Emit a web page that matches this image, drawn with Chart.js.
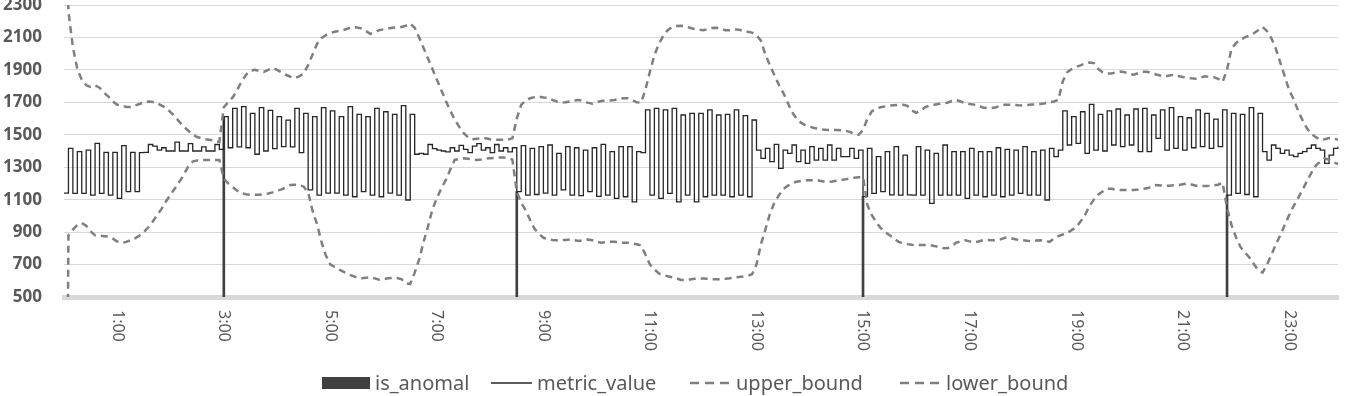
<!DOCTYPE html>
<html>
<head>
<meta charset="utf-8">
<script src="https://cdn.jsdelivr.net/npm/chart.js@4/dist/chart.umd.min.js"></script>
<style>
html,body{margin:0;padding:0;background:#fff;overflow:hidden;}
#wrap{position:relative;width:1357px;height:396px;overflow:hidden;background:#fff;}
#cv{position:absolute;left:0;top:-8px;}
#legend{position:absolute;top:371px;left:0;width:1357px;height:24px;font-family:'Noto Sans',sans-serif;font-size:20px;color:#595959;}
.item{position:absolute;top:0;height:24px;line-height:24px;white-space:nowrap;display:flex;align-items:center;}
.item span{margin-left:5px;}
</style>
</head>
<body>
<div id="wrap">
<canvas id="cv" width="1357" height="404" style="width:1357px;height:404px"></canvas>
<div id="legend"></div>
</div>
<script>
// ---- categories (5-minute steps over one day) ----
const timeLabels = [];
for (let h = 0; h < 24; h++) for (let m = 0; m < 60; m += 5) timeLabels.push(h + ':' + String(m).padStart(2, '0'));

// ---- tick labels shown on the x axis ----
const tickLabels = ['1:00','3:00','5:00','7:00','9:00','11:00','13:00','15:00','17:00','19:00','21:00','23:00'];

// ---- series ----
const metricValue = [
1140,1416,1139,1396,1139,1406,1128,1447,1139,1392,1128,1392,1108,1433,1149,1392,1149,
1390,1392,1440,1430,1405,1420,1400,1400,1455,1400,1400,1445,1400,1400,1425,1400,1400,1440,1410,
1612,1420,1663,1425,1673,1420,1632,1380,1667,1400,1650,1415,1612,1427,1590,1425,1663,1390,1632,
1160,1612,1128,1667,1140,1647,1140,1612,1128,1673,1118,1626,1150,1612,1128,1663,1118,1642,1140,1626,1128,1680,1098,1626,
1380,1385,1380,1440,1415,1405,1400,1395,1420,1400,1435,1410,1390,1430,1445,1405,1420,1390,1440,1400,1420,1395,1420,
1150,1433,1128,1416,1132,1427,1140,1437,1128,1385,1160,1427,1128,1420,1125,1406,1150,1420,1120,1441,1128,1396,1108,1427,1118,1427,1087,1396,1390,
1653,1128,1663,1108,1653,1139,1663,1087,1622,1128,1632,1087,1632,1118,1653,1128,1622,1128,1626,1118,1653,1128,1618,1118,1591,
1406,1355,1416,1334,1441,1293,1406,1385,1437,1334,1406,1324,1427,1344,1416,1344,1437,1344,1416,1365,1365,1416,1355,1406,
1120,
1416,1139,1365,1150,1396,1130,1427,1128,1375,1130,1128,1427,1128,1406,1077,1385,1128,1437,1128,1396,1128,1396,1108,1416,1128,1396,1118,1396,1128,1420,1118,1410,1128,1406,1139,1427,1128,1396,1128,1406,1098,
1416,1365,1406,
1647,1437,1612,1447,1642,1385,1688,1406,1626,1400,1647,1437,1659,1427,1622,1437,1659,1396,1663,1396,1622,1478,1653,1406,1667,1416,1612,1406,1605,1420,1653,1427,1632,1416,1597,1427,1653,
1128,1632,1139,1626,1132,1667,1118,1632,
1396,1344,1437,1416,1385,1406,1375,1365,1385,1396,1416,1437,1416,1406,1324,1375,1416,1427
];

const upperBound = [
3500,2260,2040,1905,1840,1805,1795,1805,1790,1760,
1735,1705,1685,1680,1672,1672,1680,1690,1700,1705,
1702,1695,1680,1665,1640,1612,1580,1550,1525,1500,
1486,1478,1472,1468,1462,1456,1670,1700,1730,1775,
1830,1870,1895,1900,1893,1888,1900,1912,1900,1885,
1870,1858,1850,1860,1878,1930,1995,2060,2095,2115,
2127,2135,2140,2146,2155,2165,2162,2155,2140,2122,
2130,2145,2150,2155,2160,2162,2165,2172,2185,2160,
2100,2035,1970,1905,1840,1775,1710,1650,1595,1550,
1512,1485,1472,1475,1480,1478,1472,1470,1470,1470,
1470,1478,1600,1685,1710,1725,1732,1735,1730,1728,
1715,1705,1698,1700,1705,1712,1715,1705,1698,1692,
1700,1708,1710,1712,1715,1720,1725,1725,1715,1700,
1698,1780,1890,1990,2060,2110,2145,2165,2170,2172,
2168,2160,2152,2148,2145,2150,2158,2160,2152,2145,
2145,2150,2148,2140,2135,2130,2115,2080,1995,1930,
1870,1810,1760,1700,1640,1600,1575,1560,1550,1542,
1538,1532,1530,1530,1530,1528,1525,1518,1505,1500,
1530,1600,1645,1660,1670,1675,1680,1682,1684,1685,
1678,1650,1635,1648,1670,1680,1685,1690,1694,1698,
1708,1714,1705,1695,1690,1686,1678,1668,1665,1665,
1670,1680,1685,1685,1684,1682,1681,1683,1686,1688,
1690,1694,1700,1705,1715,1830,1885,1905,1918,1928,
1940,1945,1942,1905,1885,1877,1878,1885,1890,1885,
1876,1870,1880,1888,1888,1880,1872,1865,1860,1865,
1870,1862,1856,1852,1848,1845,1852,1860,1858,1855,
1845,1825,1900,2030,2065,2085,2100,2112,2125,2145,
2165,2140,2095,2030,1945,1860,1775,1720,1650,1590,
1540,1505,1485,1470,1472,1480,1475,1470
];

const lowerBound = [
-3000,880,915,945,955,940,905,880,878,875,
872,860,842,833,840,850,862,878,900,930,
965,1005,1045,1090,1130,1170,1210,1255,1305,1335,
1342,1345,1345,1345,1345,1345,1230,1200,1178,1155,
1140,1133,1130,1130,1130,1134,1138,1145,1155,1163,
1175,1190,1192,1190,1180,1145,1030,950,840,755,
700,685,668,655,640,630,620,615,618,623,
615,607,610,616,618,617,610,585,580,650,
730,840,935,1040,1110,1170,1220,1285,1345,1350,
1355,1352,1347,1345,1348,1353,1355,1357,1360,1360,
1355,1348,1150,1080,1035,975,920,890,865,858,
852,850,850,852,855,850,845,850,855,850,
840,835,838,840,840,838,835,835,830,825,
818,760,700,670,645,635,628,622,615,605,
605,608,612,615,614,612,610,610,610,612,
615,620,623,626,630,640,700,825,915,1010,
1080,1125,1165,1185,1200,1210,1215,1220,1220,1220,
1218,1212,1210,1212,1216,1220,1225,1230,1235,1238,
1240,1065,1005,960,925,900,880,860,840,832,
826,822,820,820,820,820,815,808,802,800,
815,835,843,850,843,836,842,850,851,850,
850,855,865,865,858,852,850,847,845,848,
850,845,840,860,875,885,895,912,930,965,
1005,1060,1100,1132,1150,1168,1167,1160,1160,1160,
1160,1160,1162,1166,1170,1180,1190,1188,1185,1186,
1189,1190,1195,1200,1193,1186,1185,1185,1186,1188,
1192,1205,1050,945,870,810,775,745,705,665,
650,700,760,825,880,945,1005,1060,1110,1160,
1215,1265,1310,1335,1355,1345,1330,1320
];

const anomalyTimes = ['3:00','8:30','15:00','21:50'];
const anomalyValues = [1612,1150,1120,1128];

const seriesNames = ['is_anomal','metric_value','upper_bound','lower_bound'];

// ---- colours / styles ----
const BAR_COLOR = '#404040';
const LINE_COLOR = '#262626';
const BOUND_COLOR = '#7f7f7f';
const TEXT_COLOR = '#595959';
const GRID_COLOR = '#d9d9d9';

const xLabelPlugin = {
  id: 'rotatedXLabels',
  afterDraw(chart) {
    const xs = chart.scales.x, ctx = chart.ctx;
    const top = chart.chartArea.bottom + 13;
    ctx.save();
    ctx.font = '16px "Noto Sans"';
    ctx.fillStyle = TEXT_COLOR;
    ctx.textAlign = 'left';
    ctx.textBaseline = 'middle';
    tickLabels.forEach(t => {
      const x = xs.getPixelForValue(timeLabels.indexOf(t));
      ctx.save();
      ctx.translate(x, top);
      ctx.rotate(Math.PI / 2);
      ctx.fillText(t, 0, 0);
      ctx.restore();
    });
    ctx.restore();
  }
};

new Chart(document.getElementById('cv'), {
  type: 'line',
  data: {
    labels: timeLabels,
    datasets: [
      {
        type: 'bar', label: seriesNames[0],
        data: anomalyTimes.map((t, k) => ({x: t, y: anomalyValues[k]})),
        backgroundColor: BAR_COLOR, barThickness: 2, grouped: false, order: 5
      },
      {
        label: seriesNames[1], data: metricValue, borderColor: LINE_COLOR, borderWidth: 1.3,
        pointRadius: 0, stepped: true, tension: 0, fill: false, order: 3
      },
      {
        label: seriesNames[2], data: upperBound, borderColor: BOUND_COLOR, borderWidth: 2.5,
        borderDash: [7, 5], pointRadius: 0, tension: 0, fill: false, order: 2
      },
      {
        label: seriesNames[3], data: lowerBound, borderColor: BOUND_COLOR, borderWidth: 2.5,
        borderDash: [7, 5], pointRadius: 0, tension: 0, fill: false, order: 1
      }
    ]
  },
  options: {
    responsive: false,
    animation: false,
    events: [],
    layout: { padding: { top: 13, right: 19, bottom: 0, left: 0 } },
    plugins: { legend: { display: false }, tooltip: { enabled: false } },
    scales: {
      x: {
        type: 'category', offset: false,
        grid: { display: false },
        ticks: { display: false },
        border: { display: true, color: GRID_COLOR, width: 5 },
        afterFit(s) { s.height = 99; }
      },
      y: {
        min: 500, max: 2300,
        ticks: { stepSize: 200, color: TEXT_COLOR, padding: 22,
                 font: { family: 'Noto Sans', size: 17, weight: 'bold' },
                 callback: v => String(v) },
        grid: { color: GRID_COLOR, lineWidth: 1, drawTicks: false },
        border: { display: false },
        afterFit(s) { s.width = 64; s.paddingTop = 0; s.paddingBottom = 0; }
      }
    }
  },
  plugins: [xLabelPlugin]
});

// ---- HTML legend ----
const legendLefts = [322, 491, 690, 900];
const legend = document.getElementById('legend');
seriesNames.forEach((name, k) => {
  const item = document.createElement('div');
  item.className = 'item';
  item.style.left = legendLefts[k] + 'px';
  let sw;
  if (k === 0) {
    sw = '<svg width="48" height="12"><rect x="0" y="0" width="48" height="12" fill="' + BAR_COLOR + '"/></svg>';
  } else if (k === 1) {
    sw = '<svg width="41" height="4"><line x1="0" y1="2" x2="41" y2="2" stroke="' + LINE_COLOR + '" stroke-width="1.3"/></svg>';
  } else {
    sw = '<svg width="41" height="4"><line x1="0" y1="2" x2="41" y2="2" stroke="' + BOUND_COLOR + '" stroke-width="2.5" stroke-dasharray="9 6"/></svg>';
  }
  item.innerHTML = sw + '<span>' + name + '</span>';
  legend.appendChild(item);
});
</script>
</body>
</html>
